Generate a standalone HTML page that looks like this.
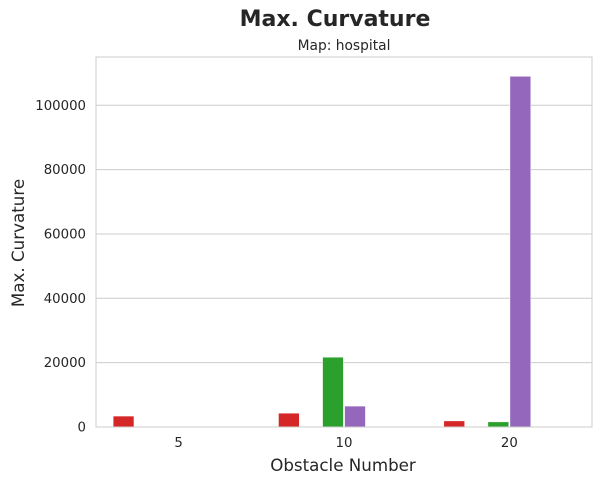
<!DOCTYPE html>
<html><head><meta charset="utf-8"><style>
body{margin:0;background:#fff}
svg{display:block;font-family:"DejaVu Sans","Liberation Sans",sans-serif}
</style></head><body>
<svg id="c" width="601" height="484">
<text x="335" y="26" text-anchor="middle" font-size="22" font-weight="bold" fill="#262626">Max. Curvature</text>
<text x="344" y="50" text-anchor="middle" font-size="13.8" fill="#262626">Map: hospital</text>
<g id="grid"></g><g id="bars"></g>
<rect x="96" y="57" width="496" height="370" fill="none" stroke="#cccccc" stroke-width="1"/>
<g id="ticks"></g>
<text x="343" y="471" text-anchor="middle" font-size="16.7" fill="#262626">Obstacle Number</text>
<text transform="translate(24,243) rotate(-90)" text-anchor="middle" font-size="16.7" fill="#262626">Max. Curvature</text>
</svg>
<script>
const categories=["5","10","20"];
const hueColors=["#d62728","#ff7f0e","#2ca02c","#9467bd","#8c564b","#e377c2"];
const seriesRed=[3400,4300,1900];
const seriesOrange=[0,0,0];
const seriesGreen=[0,21700,1600];
const seriesPurple=[0,6500,109000];
const seriesBrown=[0,0,0];
const seriesPink=[0,0,0];
const yTicks=[0,20000,40000,60000,80000,100000];
const series=[seriesRed,seriesOrange,seriesGreen,seriesPurple,seriesBrown,seriesPink];
const NS="http://www.w3.org/2000/svg";
const L=96,R=592,T=57,B=427,yMax=115000;
const y=v=>B-v/yMax*(B-T);
const band=(R-L)/categories.length;
const xc=i=>L+band*(i+0.5);
const bw=band*0.8/series.length;
function mk(t,a,p){const e=document.createElementNS(NS,t);for(const k in a)e.setAttribute(k,a[k]);p.appendChild(e);return e;}
const g=document.getElementById('grid'),bg=document.getElementById('bars'),tg=document.getElementById('ticks');
yTicks.forEach(v=>{
 const l=mk('line',{x1:L,x2:R,y1:y(v),y2:y(v),stroke:'#cccccc','stroke-width':1},g);
 
 
 const t=mk('text',{x:L-10,y:y(v)+4.5,'text-anchor':'end','font-size':13.3,fill:'#262626'},tg);
 t.textContent=v;
 
 
});
categories.forEach((c,i)=>{
 const t=mk('text',{x:xc(i),y:B+20,'text-anchor':'middle','font-size':13.3,fill:'#262626'},tg);
 t.textContent=c;
 
 
 series.forEach((s,h)=>{
  const v=s[i]; if(!v) return;
  const x0=xc(i)-band*0.4+h*bw;
  const r=mk('rect',{x:x0+0.6,y:y(v),width:bw-1.2,height:B-y(v),fill:hueColors[h],stroke:'#ffffff','stroke-width':0.5},bg);
  
  
 });
});
</script>
</body></html>
